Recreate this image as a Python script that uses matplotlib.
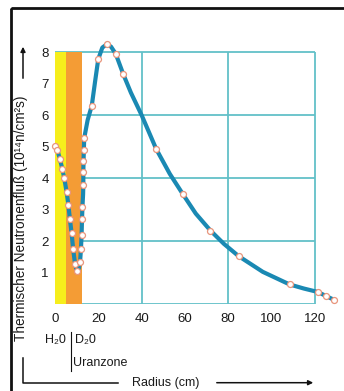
import matplotlib
matplotlib.use("Agg")
import matplotlib.pyplot as plt
from matplotlib.patches import Rectangle, FancyArrowPatch

plt.rcParams['font.family'] = ['Liberation Sans', 'DejaVu Sans']

# ---- data ----
# curve of thermal neutron flux
curve_r = [0, 1.0, 2.2, 3.3, 4.2, 5.3, 6.1, 6.8, 7.6, 8.3, 9.2, 10.0, 10.8, 11.5,
           11.9, 12.2, 12.4, 12.6, 12.9, 13.0, 13.0, 13.1, 13.4, 15.0, 16.9,
           18.5, 19.9, 21.8, 23.8, 25.8, 28.0, 31.5, 35.0, 40.0, 46.7, 53.0,
           59.0, 65.0, 71.8, 78.0, 84.8, 96.0, 108.4, 115.0, 121.5, 125.0, 129.0]
curve_phi = [5.03, 4.9, 4.6, 4.3, 4.0, 3.55, 3.15, 2.7, 2.25, 1.75, 1.27, 1.05, 1.1, 1.35,
             1.75, 2.2, 2.7, 3.1, 3.5, 3.8, 4.2, 4.55, 5.27, 5.85, 6.3,
             7.1, 7.78, 8.15, 8.25, 8.18, 7.95, 7.3, 6.72, 6.0, 4.93, 4.14,
             3.5, 2.88, 2.34, 1.92, 1.53, 1.03, 0.63, 0.5, 0.39, 0.27, 0.14]

# measured points (markers)
mark_r = [0, 1.0, 2.2, 3.3, 4.2, 5.3, 6.1, 6.8, 7.6, 8.3, 9.2, 10.0, 11.5, 11.9,
          12.2, 12.4, 12.6, 13.0, 13.0, 13.0, 13.1, 13.4, 16.9, 19.9, 23.8, 28.0,
          31.5, 46.7, 59.0, 71.8, 84.8, 108.4, 121.5, 125.0, 129.0]
mark_phi = [5.03, 4.9, 4.6, 4.3, 4.0, 3.55, 3.15, 2.7, 2.25, 1.75, 1.27, 1.05, 1.35, 1.75,
            2.2, 2.7, 3.1, 3.8, 4.2, 4.55, 4.9, 5.27, 6.3, 7.78, 8.25, 7.95,
            7.3, 4.93, 3.5, 2.34, 1.53, 0.63, 0.39, 0.27, 0.14]

zone_edges = [0, 4.9, 12.3]          # H2O zone, D2O / uranium zone
zone_top = 8
zone_colors = ['#f6ee1c', '#f49c35']

x_ticks = [0, 20, 40, 60, 80, 100, 120]
y_ticks = [1, 2, 3, 4, 5, 6, 7, 8]
x_grid = [0, 40, 80, 120]
y_grid = [0, 2, 4, 6, 8]

W, H = 344, 391
fig = plt.figure(figsize=(W / 100, H / 100), dpi=100)
fig.patch.set_facecolor('white')

# main axes: x=0 at px 55.2, x=131 at px 338.5 ; y=0 at px 304.3, y=8.4 at px 39.7
ax = fig.add_axes([55.2 / W, 1 - 304.3 / H, (338.5 - 55.2) / W, (304.3 - 39.7) / H])
ax.set_xlim(0, 131)
ax.set_ylim(0, 8.4)
for s in ax.spines.values():
    s.set_visible(False)
ax.set_facecolor('none')

grid_c = '#62c0c8'
ax.vlines(x_grid, min(y_grid), max(y_grid), colors=grid_c, lw=1.3, zorder=1)
ax.hlines(y_grid, min(x_grid), max(x_grid), colors=grid_c, lw=1.3, zorder=1)

for i in range(len(zone_edges) - 1):
    ax.fill_between([zone_edges[i], zone_edges[i + 1]], 0, zone_top,
                    color=zone_colors[i], lw=0, zorder=2)

ax.plot(curve_r, curve_phi, color='#1a89b3', lw=3.0, solid_capstyle='round',
        solid_joinstyle='round', zorder=3, clip_on=False)
ax.plot(mark_r, mark_phi, ls='none', marker='o', ms=4.3, mfc='white',
        mec='#e8957c', mew=0.9, zorder=4, clip_on=False)

ax.set_xticks(x_ticks)
ax.set_yticks(y_ticks)
ax.set_xticklabels([str(v) for v in x_ticks])
ax.set_yticklabels([str(v) for v in y_ticks])
ax.tick_params(axis='both', length=0, labelsize=9.5, colors='#1a1a1a')
ax.tick_params(axis='x', pad=6.5)
ax.tick_params(axis='y', pad=4.5)

# overlay in pixel coordinates for decorations
ov = fig.add_axes([0, 0, 1, 1])
ov.set_xlim(0, W)
ov.set_ylim(H, 0)
ov.axis('off')
ov.set_zorder(5)
ov.patch.set_alpha(0)

ov.add_patch(Rectangle((11.3, 7.8), W + 5, H + 5, fill=False, ec='#111111', lw=2.0))

ov.text(21, 218, 'Thermischer Neutronenfluß (10¹⁴n/cm²s)', rotation=90,
        ha='center', va='center', fontsize=9.8, color='#1a1a1a')
ov.add_patch(FancyArrowPatch((23, 81), (23, 44), arrowstyle='-|>', mutation_scale=7,
                             color='#111111', lw=1.1))

ov.text(55, 340, 'H₂0', ha='center', va='center', fontsize=9, color='#1a1a1a')
ov.text(85, 340, 'D₂0', ha='center', va='center', fontsize=9, color='#1a1a1a')
ov.plot([70.7, 70.7], [332, 371], color='#111111', lw=0.8)
ov.text(73, 363, 'Uranzone', ha='left', va='center', fontsize=9, color='#1a1a1a')

ov.plot([23.3, 23.3, 118], [358, 382.7, 382.7], color='#111111', lw=1.1)
ov.text(166, 382.7, 'Radius (cm)', ha='center', va='center', fontsize=9, color='#1a1a1a')
ov.add_patch(FancyArrowPatch((214, 382.7), (316, 382.7), arrowstyle='-|>',
                             mutation_scale=7, color='#111111', lw=1.1))

fig.savefig('out.png', dpi=100)
